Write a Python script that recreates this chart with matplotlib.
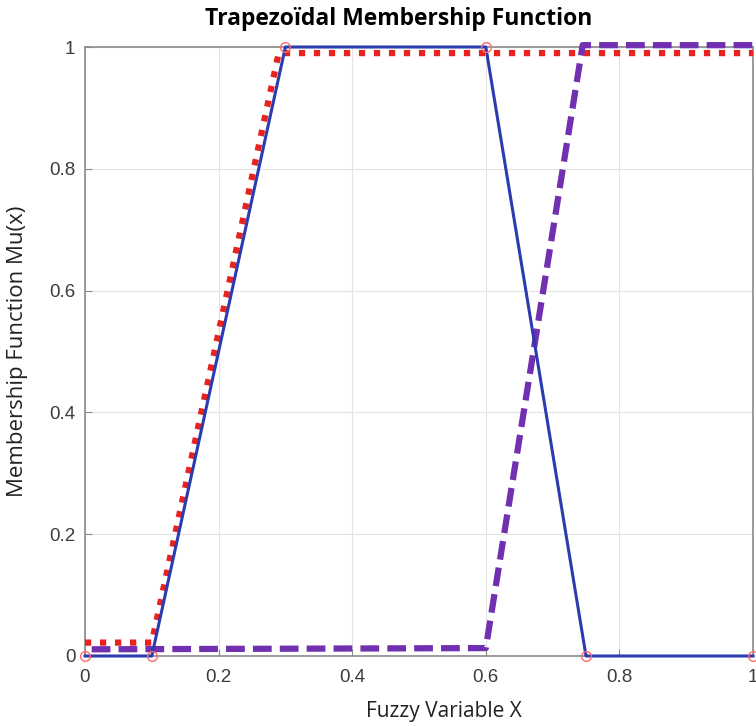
import matplotlib.pyplot as plt

# --- données ---
x_trap = [0, 0.1, 0.3, 0.6, 0.75, 1.0]
mu_trap = [0, 0, 1, 1, 0, 0]

x_rouge = [0, 0.1, 0.29, 1.0]
mu_rouge = [0.022, 0.022, 0.99, 0.99]

x_violet = [0.01, 0.6, 0.745, 1.0]
mu_violet = [0.011, 0.013, 1.003, 1.003]

ticks = [0, 0.2, 0.4, 0.6, 0.8, 1]
tick_labels = ['0', '0.2', '0.4', '0.6', '0.8', '1']

fig = plt.figure(figsize=(7.56, 7.26), dpi=100)
ax = fig.add_axes([85 / 756, 70 / 726, 668 / 756, 609 / 726])

ax.plot(x_rouge, mu_rouge, color='#e8231f', lw=4.5,
        linestyle=(0, (1, 1.4)), dash_capstyle='butt', clip_on=False, zorder=3)
ax.plot(x_violet, mu_violet, color='#7030b0', lw=4.5,
        linestyle=(0, (3, 1.3)), dash_capstyle='butt', clip_on=False, zorder=3)
ax.plot(x_trap, mu_trap, color='#2a3cb0', lw=2.2, clip_on=False, zorder=4)
ax.plot(x_trap, mu_trap, 'o', mfc='none', mec='#ff6b6b', ms=7, mew=1.0,
        clip_on=False, zorder=5)

ax.set_xlim(0, 1)
ax.set_ylim(0, 1)
ax.set_xticks(ticks)
ax.set_xticklabels(tick_labels)
ax.set_yticks(ticks)
ax.set_yticklabels(tick_labels)
ax.grid(True, color='#e3e3e3', lw=0.8)
ax.set_axisbelow(True)
for s in ax.spines.values():
    s.set_color('#8a8a8a')
    s.set_linewidth(1.2)
ax.tick_params(direction='in', length=5, color='#8a8a8a', labelcolor='#3c3c3c',
               labelsize=13.5)
ax.tick_params(axis='x', pad=9)
ax.tick_params(axis='y', pad=7)
for lab in ax.get_xticklabels() + ax.get_yticklabels():
    lab.set_fontfamily('Liberation Sans')

ax.set_title('Trapezoïdal Membership Function', fontsize=16.5, fontweight='bold',
             family='Open Sans', pad=16, x=0.469)
ax.set_xlabel('Fuzzy Variable X', fontsize=15, family='Open Sans', color='#222222')
ax.xaxis.set_label_coords(0.537, -0.074)
ax.set_ylabel('Membership Function Mu(x)', fontsize=16, family='Open Sans',
              color='#222222')
ax.yaxis.set_label_coords(-0.086, 0.5)

fig.savefig('out.png', dpi=100)
